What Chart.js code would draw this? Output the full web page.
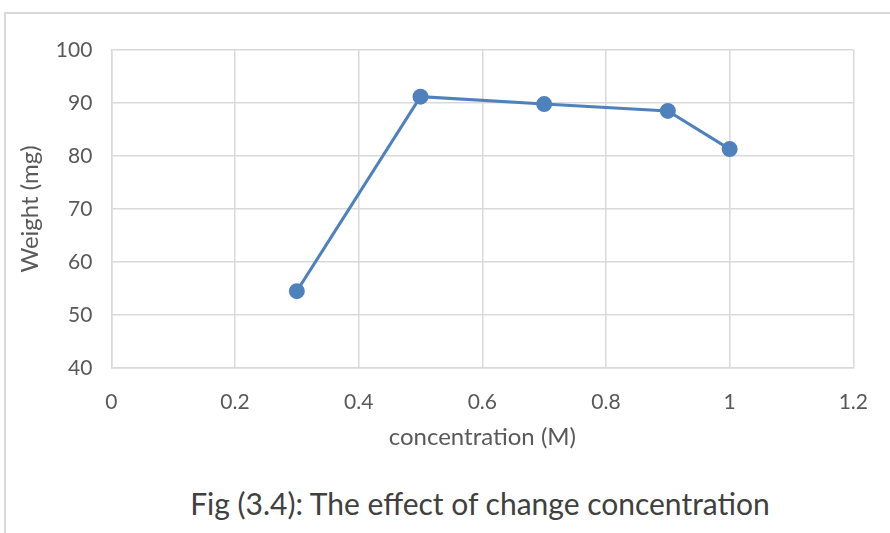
<!DOCTYPE html>
<html>
<head>
<meta charset="utf-8">
<script src="https://cdn.jsdelivr.net/npm/chart.js@4"></script>
<style>
  html, body { margin: 0; padding: 0; background: #fff; }
  body { width: 890px; height: 533px; position: relative; overflow: hidden; }
  .frame { position: absolute; left: 4px; top: 12px; width: 900px; height: 530px;
           border-left: 2px solid #d9d9d9; border-top: 2px solid #d9d9d9; }
  #chart { position: absolute; left: 0; top: 0; }
  .caption { position: absolute; left: 0; width: 960px; top: 485px; text-align: center;
             font-family: Lato, "Open Sans", sans-serif; font-size: 30px; color: #404040; }
</style>
</head>
<body>
<div class="frame"></div>
<canvas id="chart" width="890" height="470"></canvas>
<div class="caption">Fig (3.4): The effect of change concentration</div>
<script>
// concentration (M) and measured weight (mg)
const concentration = [0.3, 0.5, 0.7, 0.9, 1.0];
const weight = [54.5, 91.2, 89.8, 88.5, 81.3];

const xTicks = [0, 0.2, 0.4, 0.6, 0.8, 1, 1.2];
const yTicks = [40, 50, 60, 70, 80, 90, 100];

const lineColor = '#4f81bd';
const gridColor = '#d9d9d9';
const textColor = '#595959';
const font = "Lato, 'Open Sans', sans-serif";

new Chart(document.getElementById('chart'), {
    type: 'scatter',
    data: {
        datasets: [{
            label: 'Weight',
            data: concentration.map((c, i) => ({ x: c, y: weight[i] })),
            showLine: true,
            borderColor: lineColor,
            backgroundColor: lineColor,
            borderWidth: 3,
            pointRadius: 6.5,
            pointHoverRadius: 6.5
        }]
    },
    options: {
        responsive: false,
        animation: false,
        layout: { padding: { left: 12, right: 18, top: 50, bottom: 14 } },
        plugins: { legend: { display: false }, tooltip: { enabled: false } },
        scales: {
            x: {
                type: 'linear',
                min: xTicks[0],
                max: xTicks[xTicks.length - 1],
                afterBuildTicks: axis => { axis.ticks = xTicks.map(v => ({ value: v })); },
                grid: { color: gridColor, lineWidth: 1.5, drawTicks: false },
                border: { color: gridColor, width: 1.5 },
                ticks: { color: textColor, font: { family: font, size: 21 }, padding: 22,
                         maxRotation: 0, callback: v => String(v) },
                title: { display: true, text: 'concentration (M)', color: textColor,
                         font: { family: font, size: 24 }, padding: { top: -14, bottom: 4 } }
            },
            y: {
                min: yTicks[0],
                max: yTicks[yTicks.length - 1],
                afterBuildTicks: axis => { axis.ticks = yTicks.map(v => ({ value: v })); },
                grid: { color: gridColor, lineWidth: 1.5, drawTicks: false },
                border: { color: gridColor, width: 1.5 },
                ticks: { color: textColor, font: { family: font, size: 21 }, padding: 19 },
                title: { display: true, text: 'Weight (mg)', color: textColor,
                         font: { family: font, size: 24 }, padding: { top: 4, bottom: -8 } }
            }
        }
    }
});
</script>
</body>
</html>
